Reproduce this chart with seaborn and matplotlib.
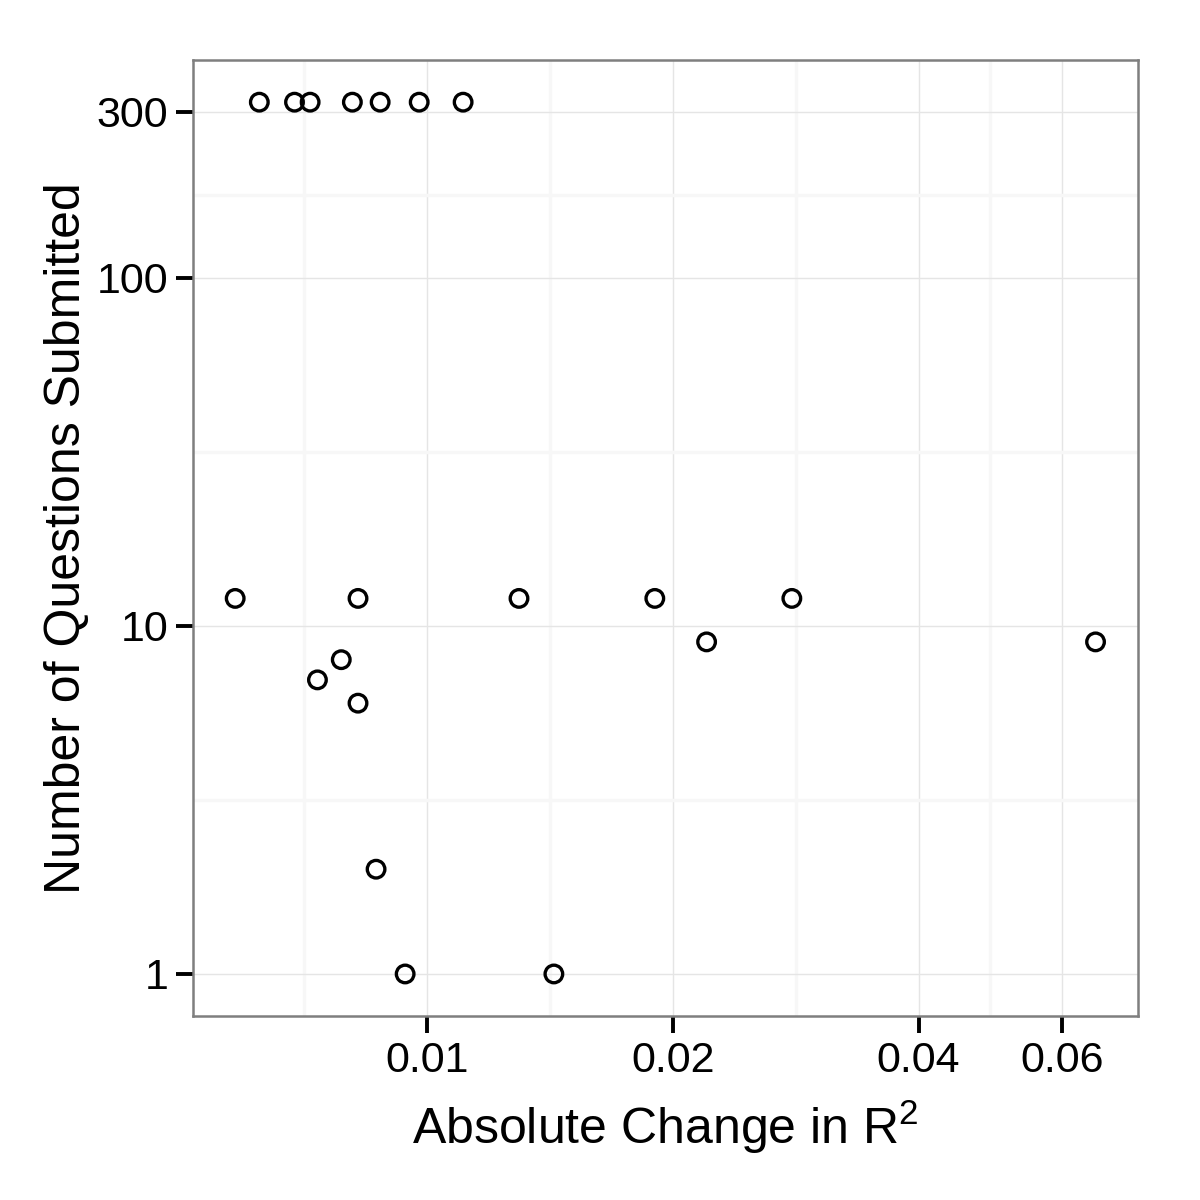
import numpy as np
import pandas as pd
import matplotlib
matplotlib.use("Agg")
import matplotlib.pyplot as plt
import seaborn as sns
from matplotlib.ticker import FixedLocator, FixedFormatter, NullFormatter

# Data
r2_change = [0.00623, 0.00688, 0.00719, 0.00810, 0.00876, 0.00978, 0.01107,
             0.00582, 0.00823, 0.01296, 0.01901, 0.02798,
             0.0220, 0.0659,
             0.00785, 0.00734, 0.00823, 0.00866,
             0.00940, 0.01430]
n_questions = [320, 320, 320, 320, 320, 320, 320,
               12, 12, 12, 12, 12,
               9, 9,
               8, 7, 6, 2,
               1, 1]

x_ticks = [0.01, 0.02, 0.04, 0.06]
x_tick_labels = ["0.01", "0.02", "0.04", "0.06"]
y_ticks = [1, 10, 100, 300]
y_tick_labels = ["1", "10", "100", "300"]
x_minor = [np.sqrt(0.005 * 0.01), np.sqrt(0.01 * 0.02), np.sqrt(0.02 * 0.04), np.sqrt(0.04 * 0.06)]
y_minor = [np.sqrt(1 * 10), np.sqrt(10 * 100), np.sqrt(100 * 300)]

df = pd.DataFrame({"x": r2_change, "y": n_questions})

sns.set_theme(style="white")
plt.rcParams['font.family'] = ['Liberation Sans', 'DejaVu Sans']
plt.rcParams['mathtext.default'] = 'regular'

fig = plt.figure(figsize=(12, 12), dpi=100)
ax = fig.add_axes([0.161, 0.1533, 0.948 - 0.161, 0.95 - 0.1533])

sns.scatterplot(data=df, x="x", y="y", ax=ax, marker="o", s=160,
                facecolor="none", edgecolor="black", linewidth=2.4, zorder=3)

ax.set_xscale("log")
ax.set_yscale("log")
ax.set_xlim(0.00517, 0.0742)
ax.set_ylim(0.757, 423)

ax.xaxis.set_major_locator(FixedLocator(x_ticks))
ax.xaxis.set_major_formatter(FixedFormatter(x_tick_labels))
ax.yaxis.set_major_locator(FixedLocator(y_ticks))
ax.yaxis.set_major_formatter(FixedFormatter(y_tick_labels))
ax.xaxis.set_minor_locator(FixedLocator(x_minor))
ax.yaxis.set_minor_locator(FixedLocator(y_minor))
ax.xaxis.set_minor_formatter(NullFormatter())
ax.yaxis.set_minor_formatter(NullFormatter())

ax.grid(which="major", color="#E5E5E5", linewidth=1.0, zorder=0)
ax.grid(which="minor", color="#F7F7F7", linewidth=2.5, zorder=0)
ax.set_axisbelow(True)

ax.tick_params(axis="both", which="major", direction="out", length=12, width=2.8,
               color="black", labelsize=31, labelcolor="black", pad=6,
               bottom=True, left=True)
ax.tick_params(axis="both", which="minor", length=0)

for s in ax.spines.values():
    s.set_edgecolor("#7F7F7F")
    s.set_linewidth(1.8)

ax.set_xlabel(r"Absolute Change in R$^{2}$", fontsize=36, color="black", labelpad=12)
ax.set_ylabel("Number of Questions Submitted", fontsize=36, color="black", labelpad=5)

fig.savefig("out.png", dpi=100, facecolor="white")
